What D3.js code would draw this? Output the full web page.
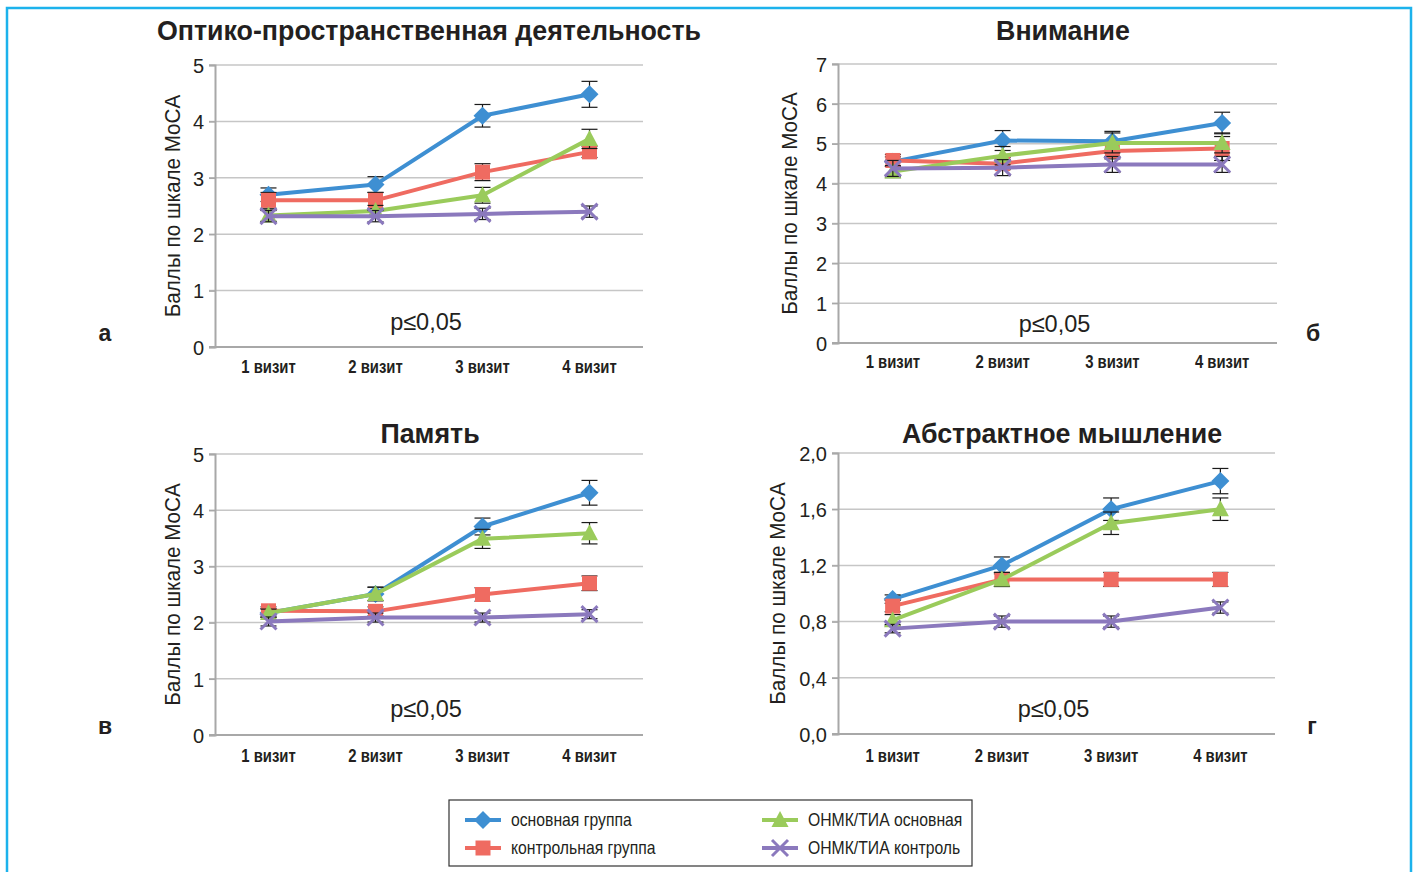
<!DOCTYPE html>
<html lang="ru">
<head>
<meta charset="UTF-8">
<title>MoCA</title>
<script src="https://d3js.org/d3.v7.min.js"></script>
<style>
  body { margin: 0; background: #fff; }
  svg text { font-family: "Liberation Sans", Arial, sans-serif; fill: #231f20; }
</style>
</head>
<body>
<svg id="chart" width="1414" height="872"></svg>
<script>
const visits = ["1 визит", "2 визит", "3 визит", "4 визит"];
const seriesNames = ["основная группа", "контрольная группа", "ОНМК/ТИА основная", "ОНМК/ТИА контроль"];
const seriesColors = ["#3e8fd2", "#ef6b61", "#9acb5b", "#8b79bd"];
const seriesMarkers = ["diamond", "square", "triangle", "cross"];

// а — оптико-пространственная деятельность
const spatialMain = [2.70, 2.88, 4.10, 4.48];
const spatialControl = [2.60, 2.60, 3.10, 3.46];
const spatialStrokeMain = [2.33, 2.41, 2.69, 3.69];
const spatialStrokeControl = [2.32, 2.32, 2.36, 2.40];
const spatialErrMain = [0.12, 0.14, 0.20, 0.23];
const spatialErrControl = [0.14, 0.14, 0.15, 0.10];
const spatialErrStrokeMain = [0.10, 0.10, 0.14, 0.17];
const spatialErrStrokeControl = [0.10, 0.10, 0.10, 0.10];

// б — внимание
const attnMain = [4.55, 5.08, 5.06, 5.52];
const attnControl = [4.58, 4.50, 4.82, 4.88];
const attnStrokeMain = [4.30, 4.70, 5.02, 5.02];
const attnStrokeControl = [4.38, 4.40, 4.48, 4.48];
const attnErrMain = [0.12, 0.25, 0.25, 0.27];
const attnErrControl = [0.15, 0.15, 0.20, 0.30];
const attnErrStrokeMain = [0.15, 0.23, 0.25, 0.25];
const attnErrStrokeControl = [0.20, 0.20, 0.20, 0.20];

// в — память
const memMain = [2.17, 2.51, 3.71, 4.31];
const memControl = [2.21, 2.20, 2.50, 2.70];
const memStrokeMain = [2.17, 2.51, 3.49, 3.59];
const memStrokeControl = [2.02, 2.09, 2.09, 2.15];
const memErrMain = [0.08, 0.12, 0.15, 0.22];
const memErrControl = [0.07, 0.08, 0.12, 0.13];
const memErrStrokeMain = [0.07, 0.12, 0.17, 0.19];
const memErrStrokeControl = [0.08, 0.08, 0.08, 0.08];

// г — абстрактное мышление
const absMain = [0.96, 1.20, 1.60, 1.80];
const absControl = [0.91, 1.10, 1.10, 1.10];
const absStrokeMain = [0.81, 1.10, 1.50, 1.60];
const absStrokeControl = [0.75, 0.80, 0.80, 0.90];
const absErrMain = [0.03, 0.06, 0.08, 0.09];
const absErrControl = [0.04, 0.05, 0.05, 0.05];
const absErrStrokeMain = [0.04, 0.05, 0.08, 0.08];
const absErrStrokeControl = [0.03, 0.04, 0.04, 0.04];

const intTicks5 = [0, 1, 2, 3, 4, 5];
const intTicks7 = [0, 1, 2, 3, 4, 5, 6, 7];
const decTicks = [0, 0.4, 0.8, 1.2, 1.6, 2.0];

const svg = d3.select("#chart");

// outer frame
svg.append("path")
    .attr("d", "M7,872 V8 H1411 V872")
    .attr("fill", "none").attr("stroke", "#1cb2ec").attr("stroke-width", 2.5);

// condensed text: the original uses a narrow grotesque, so squeeze Liberation Sans
function txt(g, x, y, str, size, opts = {}) {
  const sx = opts.sx || 1;
  const rot = opts.rotate ? ` rotate(${opts.rotate})` : "";
  return g.append("text")
      .attr("transform", `translate(${x},${y})${rot} scale(${sx},1)`)
      .attr("text-anchor", opts.anchor || "middle")
      .attr("font-size", size)
      .attr("font-weight", opts.weight || "normal")
      .attr("fill", opts.fill || "#231f20")
      .text(str);
}

const panels = [
  { title: "Оптико-пространственная деятельность", letter: "а", lx: 105, ly: 341,
    left: 215, right: 643, top: 65, bottom: 347, titleX: 429, titleY: 40, ymax: 5, ticks: intTicks5, fmt: d3.format("d"),
    yTitleX: 180, pY: 330, xLabY: 373,
    values: [spatialMain, spatialControl, spatialStrokeMain, spatialStrokeControl],
    errors: [spatialErrMain, spatialErrControl, spatialErrStrokeMain, spatialErrStrokeControl] },
  { title: "Внимание", letter: "б", lx: 1313, ly: 341,
    left: 838, right: 1277, top: 64, bottom: 343, titleX: 1063, titleY: 40, ymax: 7, ticks: intTicks7, fmt: d3.format("d"),
    yTitleX: 797, pY: 332, xLabY: 368,
    values: [attnMain, attnControl, attnStrokeMain, attnStrokeControl],
    errors: [attnErrMain, attnErrControl, attnErrStrokeMain, attnErrStrokeControl] },
  { title: "Память", letter: "в", lx: 105, ly: 734,
    left: 215, right: 643, top: 454, bottom: 735, titleX: 430, titleY: 443, ymax: 5, ticks: intTicks5, fmt: d3.format("d"),
    yTitleX: 180, pY: 717, xLabY: 762,
    values: [memMain, memControl, memStrokeMain, memStrokeControl],
    errors: [memErrMain, memErrControl, memErrStrokeMain, memErrStrokeControl] },
  { title: "Абстрактное мышление", letter: "г", lx: 1312, ly: 734,
    left: 838, right: 1275, top: 453, bottom: 734, titleX: 1062, titleY: 443, ymax: 2, ticks: decTicks, fmt: d => d3.format(".1f")(d).replace(".", ","),
    yTitleX: 785, pY: 717, xLabY: 762,
    values: [absMain, absControl, absStrokeMain, absStrokeControl],
    errors: [absErrMain, absErrControl, absErrStrokeMain, absErrStrokeControl] }
];

function markerPath(type) {
  if (type === "diamond") return "M0,-9 L9,0 L0,9 L-9,0 Z";
  if (type === "square") return "M-7.5,-7.5 H7.5 V7.5 H-7.5 Z";
  if (type === "triangle") return "M0,-9 L8.5,7 L-8.5,7 Z";
  return "M-8,-8 L8,8 M-8,8 L8,-8";
}

function drawMarker(g, type, color, x, y) {
  const p = g.append("path").attr("d", markerPath(type))
      .attr("transform", `translate(${x},${y})`);
  if (type === "cross") p.attr("fill", "none").attr("stroke", color).attr("stroke-width", 3);
  else p.attr("fill", color);
}

panels.forEach(cfg => {
  const g = svg.append("g");
  const x = d3.scalePoint().domain(visits).range([cfg.left, cfg.right]).padding(0.5);
  const y = d3.scaleLinear().domain([0, cfg.ymax]).range([cfg.bottom, cfg.top]);

  txt(g, cfg.titleX, cfg.titleY, cfg.title, 26.8, { weight: "bold" });

  // grid
  g.append("g").selectAll("line").data(cfg.ticks.filter(t => t > 0)).join("line")
      .attr("x1", cfg.left - 6).attr("x2", cfg.right)
      .attr("y1", d => y(d)).attr("y2", d => y(d))
      .attr("stroke", "#c6c6c6").attr("stroke-width", 1.5);

  // y axis
  const yAxis = g.append("g").attr("transform", `translate(${cfg.left},0)`)
      .call(d3.axisLeft(y).tickValues(cfg.ticks).tickFormat(cfg.fmt).tickSize(6).tickPadding(6));
  yAxis.select(".domain").attr("stroke", "#a8a8a8").attr("stroke-width", 2);
  yAxis.selectAll(".tick line").attr("stroke", "#a8a8a8").attr("stroke-width", 1.5);
  yAxis.selectAll(".tick text")
      .attr("font-size", 20).attr("fill", "#333").attr("dy", "0.36em").attr("x", -11);

  // x baseline
  g.append("line").attr("x1", cfg.left - 6).attr("x2", cfg.right)
      .attr("y1", cfg.bottom).attr("y2", cfg.bottom)
      .attr("stroke", "#a8a8a8").attr("stroke-width", 2);

  // x labels
  visits.forEach(v => txt(g, x(v), cfg.xLabY, v, 17.5, { weight: "bold", sx: 0.85, fill: "#333" }));

  // y title
  txt(g, cfg.yTitleX, (cfg.top + cfg.bottom) / 2, "Баллы по шкале MoCA", 22, { rotate: -90, sx: 0.94 });

  // p label
  txt(g, (cfg.left + cfg.right) / 2 - 3, cfg.pY, "p≤0,05", 24, { sx: 0.98 });

  // panel letter
  txt(g, cfg.lx, cfg.ly, cfg.letter, 23, { weight: "bold" });

  const line = d3.line().x((d, i) => x(visits[i])).y(d => y(d));

  cfg.values.forEach((vals, s) => {
    const sg = g.append("g");
    sg.append("path").datum(vals).attr("d", line)
        .attr("fill", "none").attr("stroke", seriesColors[s]).attr("stroke-width", 4)
        .attr("stroke-linejoin", "round");
    vals.forEach((v, i) => {
      const cx = x(visits[i]);
      const e = cfg.errors[s][i];
      const y0 = y(v - e), y1 = y(v + e);
      sg.append("line").attr("x1", cx).attr("x2", cx).attr("y1", y0).attr("y2", y1)
          .attr("stroke", "#1a1a1a").attr("stroke-width", 1.2);
      [y0, y1].forEach(yy => sg.append("line").attr("x1", cx - 8).attr("x2", cx + 8)
          .attr("y1", yy).attr("y2", yy).attr("stroke", "#1a1a1a").attr("stroke-width", 1.2));
      drawMarker(sg, seriesMarkers[s], seriesColors[s], cx, y(v));
    });
  });
});

// legend
const legend = svg.append("g");
legend.append("rect").attr("x", 449).attr("y", 800).attr("width", 523).attr("height", 66)
    .attr("fill", "#fff").attr("stroke", "#333").attr("stroke-width", 1.2);
const legendPos = [[465, 820], [465, 848], [762, 820], [762, 848]];
seriesNames.forEach((name, s) => {
  const [lx, ly] = legendPos[s];
  legend.append("line").attr("x1", lx).attr("x2", lx + 36).attr("y1", ly).attr("y2", ly)
      .attr("stroke", seriesColors[s]).attr("stroke-width", 4);
  drawMarker(legend, seriesMarkers[s], seriesColors[s], lx + 18, ly);
  txt(legend, lx + 46, ly + 6, name, 17.5, { anchor: "start", sx: 0.9 });
});
</script>
</body>
</html>
